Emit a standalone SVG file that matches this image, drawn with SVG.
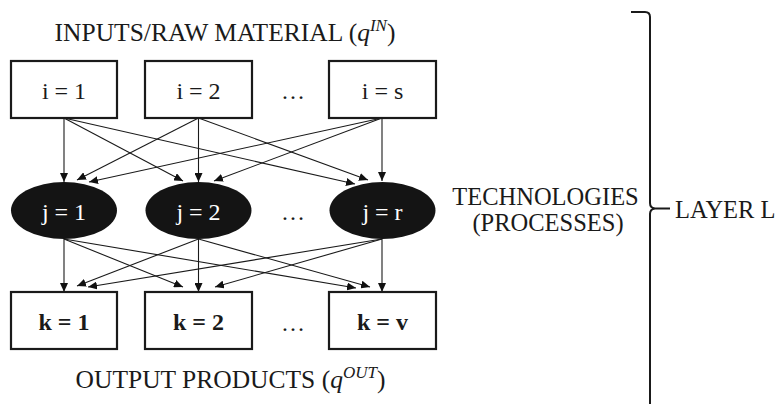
<svg xmlns="http://www.w3.org/2000/svg" width="780" height="404" viewBox="0 0 780 404">
  <defs>
    <marker id="arrow" markerUnits="userSpaceOnUse" markerWidth="10" markerHeight="8" refX="9" refY="4" orient="auto">
      <path d="M0,0 L9,4 L0,8 Z" fill="#111"/>
    </marker>
    <style>
      text { font-family: "Liberation Serif", "Times New Roman", serif; font-size: 24px; fill: #1a1a1a; }
      .caption { font-size: 25.5px; }
      .side { font-size: 24.5px; }
      .box { fill: #fff; stroke: #1a1a1a; stroke-width: 2.2; }
      .tech { fill: #141414; stroke: none; }
      .lbl { text-anchor: middle; }
      .white { fill: #fff; }
      .bold { font-weight: bold; }
      .edge { stroke: #1a1a1a; stroke-width: 1.1; fill: none; marker-end: url(#arrow); }
      .brace { stroke: #1a1a1a; stroke-width: 2; fill: none; }
    </style>
  </defs>

  <rect width="780" height="404" fill="#fff"/>

  <!-- layer captions -->
  <text class="lbl caption" x="225" y="41">INPUTS/RAW MATERIAL (<tspan font-style="italic">q</tspan><tspan font-style="italic" font-size="17" dy="-10">IN</tspan><tspan dy="10">)</tspan></text>
  <text class="lbl caption" x="230.5" y="388">OUTPUT PRODUCTS (<tspan font-style="italic">q</tspan><tspan font-style="italic" font-size="17" dy="-10">OUT</tspan><tspan dy="10">)</tspan></text>
  <text class="lbl side" x="545.5" y="205">TECHNOLOGIES</text>
  <text class="lbl side" x="548" y="231">(PROCESSES)</text>
  <text class="side" x="675" y="218">LAYER L</text>

  <!-- ellipses between columns -->
  <text class="lbl" x="293" y="99">…</text>
  <text class="lbl" x="293" y="220">…</text>
  <text class="lbl" x="293" y="331">…</text>

  <!-- connectors -->
  <g id="connectors">
    <!-- inputs to technologies -->
    <line class="edge" x1="64" y1="118" x2="64" y2="182"/>
    <line class="edge" x1="64" y1="118" x2="183" y2="181"/>
    <line class="edge" x1="64" y1="118" x2="355" y2="184"/>
    <line class="edge" x1="198.5" y1="118" x2="77" y2="180"/>
    <line class="edge" x1="198.5" y1="118" x2="198.5" y2="182"/>
    <line class="edge" x1="198.5" y1="118" x2="368" y2="180"/>
    <line class="edge" x1="382" y1="118" x2="89" y2="182"/>
    <line class="edge" x1="382" y1="118" x2="214" y2="181"/>
    <line class="edge" x1="382" y1="118" x2="382" y2="181"/>
    <!-- technologies to outputs -->
    <line class="edge" x1="64" y1="239" x2="64" y2="292"/>
    <line class="edge" x1="64" y1="239" x2="183" y2="287"/>
    <line class="edge" x1="64" y1="239" x2="356" y2="288"/>
    <line class="edge" x1="198.5" y1="239" x2="77" y2="286"/>
    <line class="edge" x1="198.5" y1="239" x2="198.5" y2="292"/>
    <line class="edge" x1="198.5" y1="239" x2="370" y2="287"/>
    <line class="edge" x1="382" y1="239" x2="88" y2="287"/>
    <line class="edge" x1="382" y1="239" x2="215" y2="287"/>
    <line class="edge" x1="382" y1="239" x2="382" y2="292"/>
  </g>

  <!-- input nodes -->
  <g id="i1"><rect class="box" x="11" y="61" width="106" height="57"/><text class="lbl" x="64" y="99">i = 1</text></g>
  <g id="i2"><rect class="box" x="145" y="61" width="107" height="57"/><text class="lbl" x="198.5" y="99">i = 2</text></g>
  <g id="is"><rect class="box" x="329" y="61" width="107" height="57"/><text class="lbl" x="382.5" y="99">i = s</text></g>

  <!-- technology nodes -->
  <g id="j1"><ellipse class="tech" cx="64" cy="210.5" rx="53" ry="28.5"/><text class="lbl white" x="64" y="220">j = 1</text></g>
  <g id="j2"><ellipse class="tech" cx="198.5" cy="210.5" rx="53" ry="28.5"/><text class="lbl white" x="198.5" y="220">j = 2</text></g>
  <g id="jr"><ellipse class="tech" cx="382.5" cy="210.5" rx="53" ry="28.5"/><text class="lbl white" x="382.5" y="220">j = r</text></g>

  <!-- output nodes -->
  <g id="k1"><rect class="box" x="11" y="292" width="106" height="57"/><text class="lbl bold" x="64" y="330">k = 1</text></g>
  <g id="k2"><rect class="box" x="145" y="292" width="107" height="57"/><text class="lbl bold" x="198.5" y="330">k = 2</text></g>
  <g id="kv"><rect class="box" x="329" y="292" width="107" height="57"/><text class="lbl bold" x="382.5" y="330">k = v</text></g>

  <!-- brace grouping the whole layer -->
  <path class="brace" d="M631,12 L645,12 Q650,12 650,17 L650,203 Q650,208 655,208.5 L670,208.5 M655,208.5 Q650,209 650,214 L650,404"/>
</svg>
